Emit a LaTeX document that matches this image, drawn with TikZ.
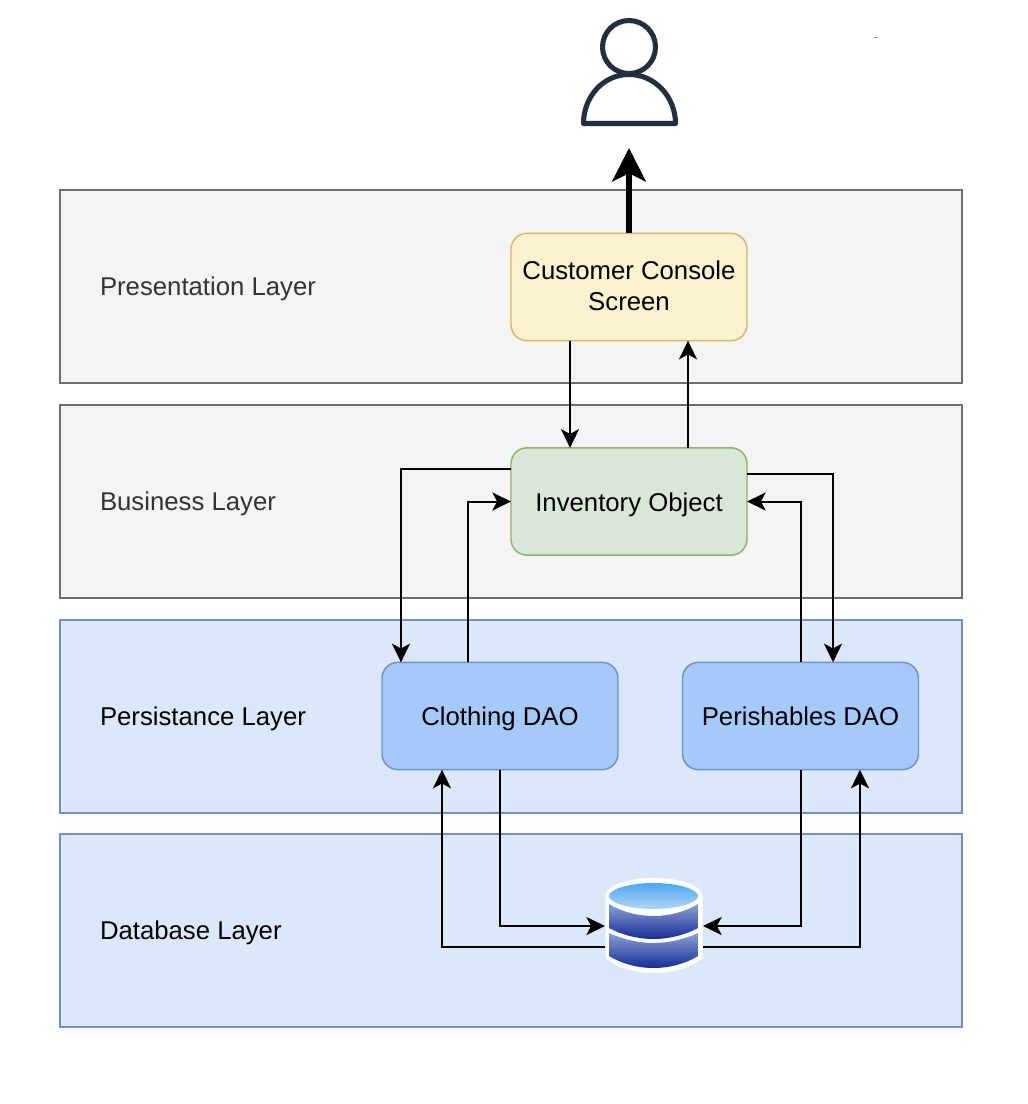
\documentclass[tikz,border=0pt]{standalone}
\usepackage{fontspec}
\setmainfont{Liberation Sans}
\usetikzlibrary{arrows.meta,calc}
\definecolor{graylayer}{HTML}{F4F4F4}
\definecolor{grayline}{HTML}{6E6E6E}
\definecolor{bluelayer}{HTML}{DCE7FA}
\definecolor{blueline}{HTML}{7390C4}
\definecolor{daofill}{HTML}{A5CAFA}
\definecolor{yellowfill}{HTML}{FBF1D0}
\definecolor{yellowline}{HTML}{D6B85F}
\definecolor{greenfill}{HTML}{DAE7D8}
\definecolor{greenline}{HTML}{8AB56F}
\definecolor{persona}{HTML}{232F3E}
\definecolor{labelgray}{HTML}{333333}
\definecolor{dbtopa}{HTML}{4FA6F5}
\definecolor{dbtopb}{HTML}{B3D4F2}
\definecolor{dbbanda}{HTML}{8AA0D6}
\definecolor{dbbandb}{HTML}{162C94}
\tikzset{
  every node/.style={font=\fontsize{19.3pt}{23.25pt}\selectfont,outer sep=0pt},
  layerbox/.style={draw=#1,line width=1.5pt,minimum width=676.5pt,minimum height=144.75pt,anchor=north west,inner sep=0pt},
  graylay/.style={layerbox=grayline,fill=graylayer},
  bluelay/.style={layerbox=blueline,fill=bluelayer},
  procbox/.style={rounded corners=12pt,line width=1.1pt,minimum width=177pt,minimum height=80.5pt,inner sep=0pt,align=center},
  laytext/.style={anchor=west,inner sep=0pt,text height=18.5pt,text depth=4pt},
  boxtext/.style={text height=18.5pt,text depth=4pt},
  conn/.style={draw=black,line width=1.5pt,-{Stealth[length=14pt,width=13.5pt,inset=3.6pt]}},
  bigconn/.style={draw=black,line width=5pt,-{Stealth[length=25pt,width=25pt,inset=6pt]}},
  dbtop/.style={top color=dbtopa,bottom color=dbtopb},
  dbband/.style={top color=dbbanda,bottom color=dbbandb},
}
\begin{document}
\begin{tikzpicture}[x=0.75pt,y=-0.75pt]
\useasboundingbox (0,0) rectangle (1028,1104);
% layers
\node[graylay] (layP) at (60,190) {};
\node[graylay] (layB) at (60,405) {};
\node[bluelay] (layS) at (60,619.5) {};
\node[bluelay] (layD) at (60,834) {};
\node[laytext,text=labelgray] (tP) at (100,286) {Presentation Layer};
\node[laytext,text=labelgray] (tB) at (100,501) {Business Layer};
\node[laytext] (tS) at (100,716) {Persistance Layer};
\node[laytext] (tD) at (100,930) {Database Layer};
% boxes
\node[procbox,text depth=1.5pt,draw=yellowline,fill=yellowfill] (cust) at (629,287) {Customer Console\\Screen};
\node[procbox,boxtext,draw=greenline,fill=greenfill] (inv) at (629,501.5) {Inventory Object};
\node[procbox,boxtext,draw=blueline,fill=daofill] (cloth) at (500,716) {Clothing DAO};
\node[procbox,boxtext,draw=blueline,fill=daofill] (perish) at (800.5,716) {Perishables DAO};
% person
\node[minimum width=73pt,minimum height=82pt,inner sep=0pt] (user) at (629,72) {};
\draw[persona,line width=3.8pt,line join=round] (629,47) circle [radius=26.5];
\draw[persona,line width=3.8pt,line join=round] (583.5,123.5) .. controls (583.5,97) and (603,74.5) .. (629,74.5) .. controls (655,74.5) and (675.5,97) .. (675.5,123.5) -- cycle;
% stray speck
\draw[gray,line width=0.5pt] (873.5,37) -- (876.5,37);
% database
\node[minimum width=73.5pt,minimum height=71pt,inner sep=0pt] (db) at (654,926) {};
\fill[white] (605.5,897) .. controls (605.5,885) and (628,878) .. (654,878) .. controls (680,878) and (702.5,885) .. (702.5,897) -- (702.5,958) .. controls (690,968) and (672,973) .. (654,973) .. controls (636,973) and (618,968) .. (605.5,958) -- cycle;
\shade[dbtop] (609,896) .. controls (609,889) and (630,883) .. (653.5,883) .. controls (677,883) and (698,889) .. (698,896) .. controls (698,903) and (677,909) .. (653.5,909) .. controls (630,909) and (609,903) .. (609,896) -- cycle;
\shade[dbband] (609,904) .. controls (622,912) and (638,916) .. (653.5,916) .. controls (669,916) and (685,912) .. (698,904) -- (698,928) .. controls (685,935) and (669,939) .. (653.5,939) .. controls (638,939) and (622,935) .. (609,928) -- cycle;
\shade[dbband] (609,933) .. controls (622,939) and (638,943) .. (653.5,943) .. controls (669,943) and (685,939) .. (698,933) -- (698,956) .. controls (685,964) and (669,968) .. (653.5,968) .. controls (638,968) and (622,964) .. (609,956) -- cycle;
% connectors
\draw[bigconn] (cust.north) -- ([yshift=-16pt]user.south);
\draw[conn] ([xshift=-44.25pt]cust.south) -- ([xshift=-44.25pt]inv.north);
\draw[conn] ([xshift=44.25pt]inv.north) -- ([xshift=44.25pt]cust.south);
\draw[conn] ([yshift=24.4pt]inv.west) -| ([xshift=-74.25pt]cloth.north);
\draw[conn] ([xshift=-24pt]cloth.north) |- (inv.west);
\draw[conn] ([yshift=20.6pt]inv.east) -| ([xshift=24.4pt]perish.north);
\draw[conn] (perish.north) |- (inv.east);
\draw[conn] (cloth.south) |- (db.west);
\draw[conn] (perish.south) |- (db.east);
\draw[conn] ([yshift=-15.75pt]db.west) -| ([xshift=-43.5pt]cloth.south);
\draw[conn] ([yshift=-15.75pt]db.east) -| ([xshift=44.6pt]perish.south);
\end{tikzpicture}
\end{document}
